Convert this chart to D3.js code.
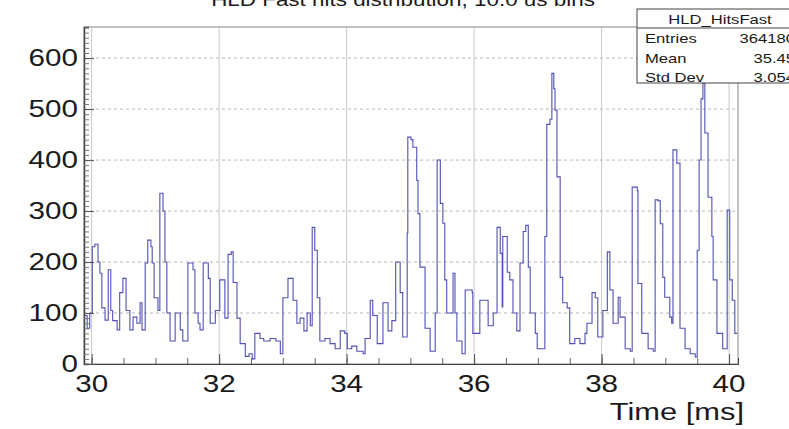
<!DOCTYPE html>
<html>
<head>
<meta charset="utf-8">
<script src="https://cdn.jsdelivr.net/npm/d3@7/dist/d3.min.js"></script>
<style>
  body { margin: 0; background: #fff; }
  svg { display: block; font-family: "Liberation Sans", Arial, sans-serif; }
</style>
</head>
<body>
<div id="chart"></div>
<script>
// Histogram: bin start time (ms) and hit count
const timeMs = [
  29.88, 29.93, 29.97, 30.01, 30.05, 30.10, 30.13, 30.16, 30.21, 30.26,
  30.30, 30.33, 30.40, 30.44, 30.49, 30.54, 30.60, 30.65, 30.71, 30.76,
  30.79, 30.84, 30.88, 30.93, 30.95, 30.98, 31.04, 31.07, 31.12, 31.15,
  31.18, 31.23, 31.31, 31.39, 31.43, 31.51, 31.59, 31.62, 31.67, 31.70,
  31.75, 31.83, 31.86, 31.94, 32.01, 32.09, 32.14, 32.19, 32.22, 32.28,
  32.33, 32.41, 32.47, 32.52, 32.56, 32.64, 32.70, 32.80, 32.89, 32.96,
  33.00, 33.08, 33.16, 33.22, 33.27, 33.33, 33.38, 33.43, 33.46, 33.50,
  33.54, 33.58, 33.66, 33.74, 33.82, 33.90, 33.97, 34.01, 34.08, 34.16,
  34.26, 34.29, 34.37, 34.41, 34.48, 34.57, 34.65, 34.71, 34.77, 34.84,
  34.88, 34.95, 34.96, 35.01, 35.04, 35.10, 35.12, 35.15, 35.23, 35.31,
  35.39, 35.42, 35.47, 35.51, 35.54, 35.57, 35.67, 35.70, 35.73, 35.81,
  35.86, 35.97, 35.98, 36.09, 36.22, 36.30, 36.36, 36.41, 36.44, 36.45,
  36.52, 36.56, 36.61, 36.67, 36.72, 36.77, 36.81, 36.85, 36.88, 36.96,
  36.99, 37.08, 37.11, 37.14, 37.19, 37.22, 37.25, 37.27, 37.30, 37.35,
  37.39, 37.46, 37.50, 37.58, 37.66, 37.74, 37.77, 37.85, 37.90, 37.94,
  38.02, 38.09, 38.13, 38.18, 38.26, 38.29, 38.37, 38.45, 38.48, 38.56,
  38.57, 38.63, 38.73, 38.81, 38.84, 38.89, 38.92, 38.96, 38.99, 39.07,
  39.10, 39.12, 39.18, 39.23, 39.31, 39.39, 39.47, 39.50, 39.53, 39.56,
  39.59, 39.62, 39.67, 39.73, 39.75, 39.81, 39.90, 39.97, 40.01, 40.05,
  40.09, 40.13
];
const hits = [
   95,  70, 100, 230, 235, 200, 178, 110,  86, 185,
  105,  85,  67, 140, 168, 105,  67,  92,  80, 120,
   67, 198, 243, 230, 198, 130, 105, 335, 300, 200,
  100,  45, 100,  67,  45, 198, 185, 100,  80,  67,
  198, 168,  80, 105, 165,  90, 215, 220, 160,  90,
   40,  15,  20,  10,  60,  50,  45,  50,  45,  20,
  130, 168, 125,  80,  90,  65, 100,  75, 268, 223,
  130,  45,  50,  40,  30,  65,  60,  30,  35,  25,
   20,  50, 125,  95,  40, 120,  65,  85, 200, 140,
   53, 257, 445, 440, 425, 360, 295, 190,  70,  25,
  100, 400, 315, 276, 165, 100, 178, 100,  45,  20,
  145, 140,  60, 125,  75, 100, 268, 217, 112, 250,
  180, 165, 100,  65, 198, 260, 272, 190, 100,  60,
   30,  30, 250, 470, 480, 570, 540, 498, 367, 170,
  120, 110,  40,  50,  40,  60,  80, 140, 130,  53,
  105, 220, 145,  80, 131,  92,  30,  25, 347, 340,
  158,  60,  30,  25, 322, 320, 275, 170, 131,  92,
   80, 420, 394,  70,  30,  20,  14, 223, 400, 520,
  550, 453, 327, 250, 165,  60,  30, 302, 165, 125,
   60,  60
];
const xTickLabels = [30, 32, 34, 36, 38, 40];
const yTickLabels = [0, 100, 200, 300, 400, 500, 600];
const statNames = ["Entries", "Mean", "Std Dev"];
const statValues = ["364180", "35.45", "3.054"];
const histName = "HLD_HitsFast";
const titleText = "HLD Fast hits distribution, 10.0 us bins";
const xTitle = "Time [ms]";

const W = 789, H = 429;
const frame = { left: 84, right: 738, top: 27, bottom: 364 };
const stretch = 1.26; // the picture's text is widened horizontally

const svg = d3.select("#chart").append("svg")
  .attr("width", W).attr("height", H);

const x = d3.scaleLinear().domain([29.88, 40.14]).range([frame.left, frame.right]);
const y = d3.scaleLinear().domain([0, 661]).range([frame.bottom, frame.top]);

// helper for the stretched Helvetica-like labels
function label(g, tx, ty, txt, size, anchor) {
  return g.append("text")
    .attr("transform", `translate(${tx},${ty}) scale(${stretch},1)`)
    .attr("text-anchor", anchor)
    .style("font-size", size + "px")
    .attr("fill", "#1a1a1a")
    .text(txt);
}

// Grid
svg.append("g").selectAll("line")
  .data(yTickLabels.filter(d => d > 0))
  .enter().append("line")
    .attr("x1", frame.left).attr("x2", frame.right)
    .attr("y1", d => y(d)).attr("y2", d => y(d))
    .attr("stroke", "#b5b5b5").attr("stroke-dasharray", "3,3");
svg.append("g").selectAll("line")
  .data(xTickLabels)
  .enter().append("line")
    .attr("x1", d => x(d)).attr("x2", d => x(d))
    .attr("y1", frame.top).attr("y2", frame.bottom)
    .attr("stroke", "#c8c8c8");

// Histogram
const line = d3.line()
  .x((d, i) => x(timeMs[i]))
  .y(d => y(d))
  .curve(d3.curveStepAfter);
svg.append("path")
  .datum(hits)
  .attr("fill", "none")
  .attr("stroke", "#5050b4")
  .attr("stroke-width", 1.1)
  .attr("d", line);

// Frame
svg.append("rect")
  .attr("x", frame.left).attr("y", frame.top)
  .attr("width", frame.right - frame.left).attr("height", frame.bottom - frame.top)
  .attr("fill", "none").attr("stroke", "#888");

// Axes ticks (pointing inwards)
const xMinor = d3.range(30, 40.01, 0.5);
svg.append("g")
  .attr("transform", `translate(0,${frame.bottom})`)
  .call(d3.axisBottom(x).tickValues(xMinor).tickSize(-6).tickFormat(""))
  .call(g => g.select(".domain").attr("stroke", "#444"))
  .call(g => g.selectAll(".tick line").attr("stroke", "#666"));
svg.append("g")
  .attr("transform", `translate(0,${frame.bottom})`)
  .call(d3.axisBottom(x).tickValues(xTickLabels).tickSize(-10).tickFormat(""))
  .call(g => g.select(".domain").remove())
  .call(g => g.selectAll(".tick line").attr("stroke", "#555"));

const yMinor = d3.range(0, 661, 10);
svg.append("g")
  .attr("transform", `translate(${frame.left},0)`)
  .call(d3.axisLeft(y).tickValues(yMinor).tickSize(-5).tickFormat(""))
  .call(g => g.select(".domain").attr("stroke", "#444").attr("stroke-width", 1.5))
  .call(g => g.selectAll(".tick line").attr("stroke", "#777"));
svg.append("g")
  .attr("transform", `translate(${frame.left},0)`)
  .call(d3.axisLeft(y).tickValues(yTickLabels).tickSize(-10).tickFormat(""))
  .call(g => g.select(".domain").remove())
  .call(g => g.selectAll(".tick line").attr("stroke", "#555"));

// Tick labels
const labels = svg.append("g");
yTickLabels.forEach(v => label(labels, 78, y(v) + 8, v, 23.5, "end"));
xTickLabels.forEach(v => label(labels, x(v), 392, v, 23.5, "middle"));
label(labels, 744, 420, xTitle, 24.5, "end");

// Title, clipped by the top edge
label(labels, 403, 6, titleText, 17.8, "middle");

// Stats box
const box = svg.append("g");
box.append("rect")
  .attr("x", 637).attr("y", 9).attr("width", 170).attr("height", 74)
  .attr("fill", "#fff").attr("stroke", "#444");
box.append("line")
  .attr("x1", 637).attr("x2", W).attr("y1", 28).attr("y2", 28)
  .attr("stroke", "#444");
label(box, 720, 24, histName, 13.2, "middle");
statNames.forEach((n, i) => {
  label(box, 645, 43 + i * 19.5, n, 13.2, "start");
  label(box, 795, 43 + i * 19.5, statValues[i], 13.2, "end");
});
</script>
</body>
</html>
